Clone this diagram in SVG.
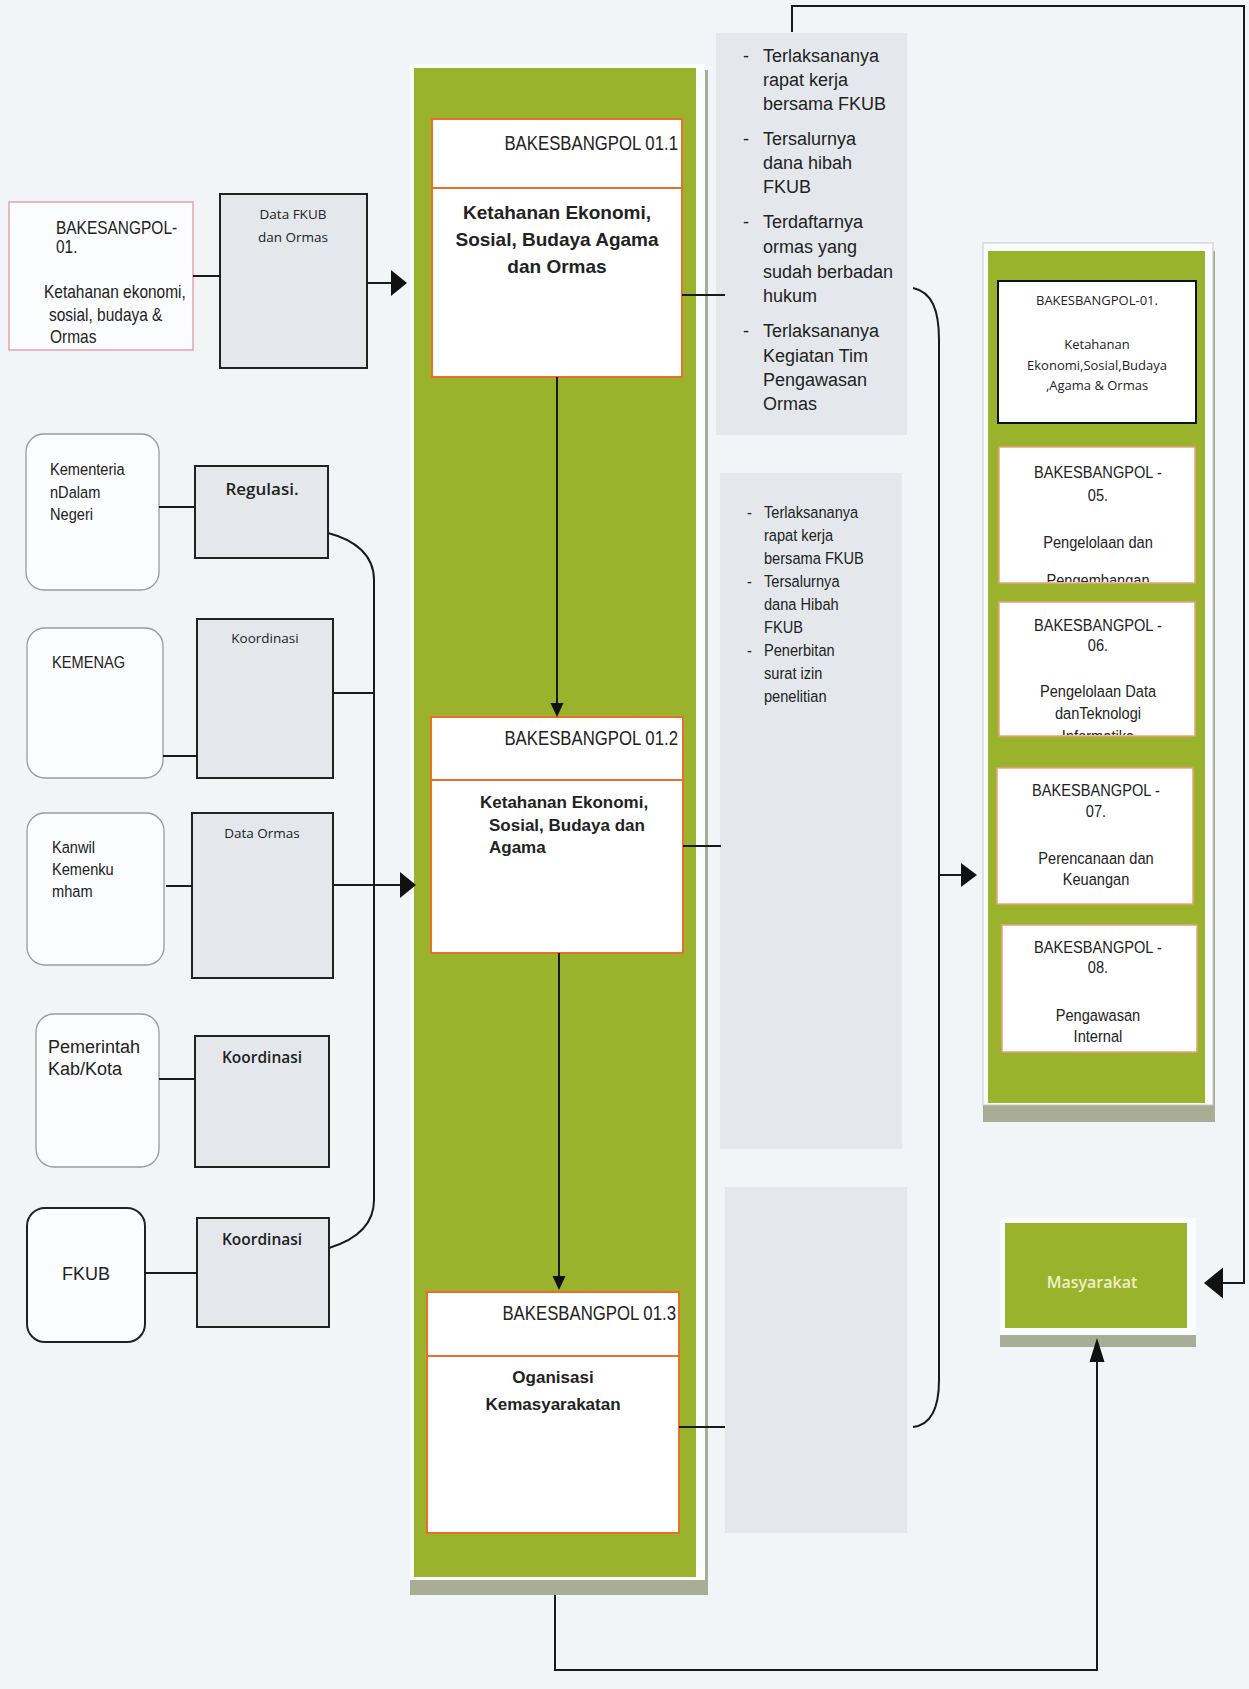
<svg xmlns="http://www.w3.org/2000/svg" width="1249" height="1689" viewBox="0 0 1249 1689">
<style>
text{font-family:"Liberation Sans",Arial,sans-serif;fill:#222;}
.nar{transform-box:fill-box;transform:scaleX(0.86);font-size:17px;}
.ol{transform-origin:left center;}
.oc{transform-origin:center;}
.or{transform-origin:right center;}
.cal{font-family:"Open Sans",sans-serif;}
.b1{font-size:18px;}
.bold{font-weight:bold;}
.mid{text-anchor:middle;}
.end{text-anchor:end;}
.src{fill:#fbfcfd;stroke:#9a9a9a;stroke-width:1.3;}
.dat{fill:#e4e8ec;stroke:#222;stroke-width:2;}
.wbox{fill:#fff;stroke:#e8702a;stroke-width:2;}
.rbox{fill:#fff;stroke:#e9a27c;stroke-width:1.5;}
.gray{fill:#e4e8ec;}
.green{fill:#9bb22c;}
.shadow{fill:#a9ad95;}
.frame{fill:#fbfcfd;}
.ln{fill:none;stroke:#1a1a1a;stroke-width:2;}
</style>
<defs>
<marker id="big" markerUnits="userSpaceOnUse" markerWidth="16" markerHeight="26" refX="0" refY="13" orient="auto" overflow="visible"><path d="M0,0 L16,13 L0,26 z" fill="#111"/></marker>
<marker id="med" markerUnits="userSpaceOnUse" markerWidth="14" markerHeight="13" refX="0" refY="6.5" orient="auto" overflow="visible"><path d="M0,0 L14,6.5 L0,13 z" fill="#111"/></marker>
<marker id="side" markerUnits="userSpaceOnUse" markerWidth="16" markerHeight="24" refX="0" refY="12" orient="auto" overflow="visible"><path d="M0,0 L16,12 L0,24 z" fill="#111"/></marker>
<marker id="loop" markerUnits="userSpaceOnUse" markerWidth="19" markerHeight="31" refX="0" refY="15.5" orient="auto" overflow="visible"><path d="M0,0 L19,15.5 L0,31 z" fill="#111"/></marker>
<marker id="up" markerUnits="userSpaceOnUse" markerWidth="24" markerHeight="15" refX="0" refY="7.5" orient="auto" overflow="visible"><path d="M0,0 L24,7.5 L0,15 z" fill="#111"/></marker>
<clipPath id="c5"><rect x="1000" y="448" width="194" height="134"/></clipPath>
<clipPath id="c6"><rect x="1000" y="603" width="194" height="132"/></clipPath>
</defs>

<rect x="0" y="0" width="1249" height="1689" fill="#f2f5f8"/>

<!-- central panel -->
<g id="panel-center">
<rect class="shadow" x="410" y="70" width="298" height="1525"/>
<rect class="frame" x="410" y="64" width="295" height="1516"/>
<rect class="green" x="414" y="68" width="282" height="1509"/>
</g>

<!-- output blocks -->
<g id="out1">
<rect class="gray" x="716" y="33" width="191" height="402"/>
<g class="b1">
<text x="743" y="62">-</text><text x="763" y="62">Terlaksananya</text>
<text x="763" y="86">rapat kerja</text>
<text x="763" y="110">bersama FKUB</text>
<text x="743" y="145">-</text><text x="763" y="145">Tersalurnya</text>
<text x="763" y="169">dana hibah</text>
<text x="763" y="193">FKUB</text>
<text x="743" y="228">-</text><text x="763" y="228">Terdaftarnya</text>
<text x="763" y="253">ormas yang</text>
<text x="763" y="278">sudah berbadan</text>
<text x="763" y="302">hukum</text>
<text x="743" y="337">-</text><text x="763" y="337">Terlaksananya</text>
<text x="763" y="362">Kegiatan Tim</text>
<text x="763" y="386">Pengawasan</text>
<text x="763" y="410">Ormas</text>
</g>
</g>
<g id="out2">
<rect class="gray" x="720" y="473" width="182" height="676"/>
<text class="nar ol" x="747" y="518">-</text>
<text class="nar ol" x="764" y="518">Terlaksananya</text>
<text class="nar ol" x="764" y="541">rapat kerja</text>
<text class="nar ol" x="764" y="564">bersama FKUB</text>
<text class="nar ol" x="747" y="587">-</text>
<text class="nar ol" x="764" y="587">Tersalurnya</text>
<text class="nar ol" x="764" y="610">dana Hibah</text>
<text class="nar ol" x="764" y="633">FKUB</text>
<text class="nar ol" x="747" y="656">-</text>
<text class="nar ol" x="764" y="656">Penerbitan</text>
<text class="nar ol" x="764" y="679">surat izin</text>
<text class="nar ol" x="764" y="702">penelitian</text>
</g>
<g id="out3">
<rect class="gray" x="725" y="1187" width="182" height="346"/>
</g>

<!-- center boxes -->
<g id="box011">
<rect class="wbox" x="432" y="119" width="250" height="258"/>
<line x1="432" y1="188" x2="682" y2="188" stroke="#e8702a" stroke-width="2"/>
<text class="nar or end" x="678" y="150" style="font-size:19.5px">BAKESBANGPOL 01.1</text>
<text class="bold mid" x="557" y="219" font-size="19">Ketahanan Ekonomi,</text>
<text class="bold mid" x="557" y="246" font-size="19">Sosial, Budaya Agama</text>
<text class="bold mid" x="557" y="273" font-size="19">dan Ormas</text>
</g>
<g id="box012">
<rect class="wbox" x="431" y="717" width="252" height="236"/>
<line x1="431" y1="780" x2="683" y2="780" stroke="#e8702a" stroke-width="2"/>
<text class="nar or end" x="678" y="745" style="font-size:19.5px">BAKESBANGPOL 01.2</text>
<text class="bold" x="480" y="808" font-size="17">Ketahanan Ekonomi,</text>
<text class="bold" x="489" y="831" font-size="17">Sosial, Budaya dan</text>
<text class="bold" x="489" y="853" font-size="17">Agama</text>
</g>
<g id="box013">
<rect class="wbox" x="427" y="1292" width="252" height="241"/>
<line x1="427" y1="1356" x2="679" y2="1356" stroke="#e8702a" stroke-width="2"/>
<text class="nar or end" x="676" y="1320" style="font-size:19.5px">BAKESBANGPOL 01.3</text>
<text class="bold mid" x="553" y="1383" font-size="17">Oganisasi</text>
<text class="bold mid" x="553" y="1410" font-size="17">Kemasyarakatan</text>
</g>

<!-- right panel -->
<g id="panel-right">
<rect class="shadow" x="983" y="251" width="232" height="871"/>
<rect class="frame" x="983" y="243" width="230" height="862" stroke="#c8c8c8" stroke-width="1"/>
<rect class="green" x="988" y="251" width="217" height="852"/>
</g>
<g id="r01">
<rect x="998" y="281" width="198" height="142" fill="#fff" stroke="#111" stroke-width="2"/>
<text class="cal mid" x="1097" y="305" font-size="13">BAKESBANGPOL-01.</text>
<text class="cal mid" x="1097" y="349" font-size="13">Ketahanan</text>
<text class="cal mid" x="1097" y="370" font-size="13">Ekonomi,Sosial,Budaya</text>
<text class="cal mid" x="1097" y="390" font-size="13">,Agama &amp; Ormas</text>
</g>
<g id="r05">
<rect class="rbox" x="999" y="447" width="196" height="136"/>
<text class="nar oc mid" x="1098" y="478">BAKESBANGPOL -</text>
<text class="nar oc mid" x="1098" y="501">05.</text>
<text class="nar oc mid" x="1098" y="548">Pengelolaan dan</text>
<g clip-path="url(#c5)"><text class="nar oc mid" x="1098" y="586">Pengembangan</text></g>
</g>
<g id="r06">
<rect class="rbox" x="999" y="602" width="196" height="134"/>
<text class="nar oc mid" x="1098" y="631">BAKESBANGPOL -</text>
<text class="nar oc mid" x="1098" y="651">06.</text>
<text class="nar oc mid" x="1098" y="697">Pengelolaan Data</text>
<text class="nar oc mid" x="1098" y="719">danTeknologi</text>
<g clip-path="url(#c6)"><text class="nar oc mid" x="1098" y="742">Informatika</text></g>
</g>
<g id="r07">
<rect class="rbox" x="997" y="768" width="196" height="136"/>
<text class="nar oc mid" x="1096" y="796">BAKESBANGPOL -</text>
<text class="nar oc mid" x="1096" y="817">07.</text>
<text class="nar oc mid" x="1096" y="864">Perencanaan dan</text>
<text class="nar oc mid" x="1096" y="885">Keuangan</text>
</g>
<g id="r08">
<rect class="rbox" x="1002" y="925" width="195" height="127"/>
<text class="nar oc mid" x="1098" y="953">BAKESBANGPOL -</text>
<text class="nar oc mid" x="1098" y="973">08.</text>
<text class="nar oc mid" x="1098" y="1021">Pengawasan</text>
<text class="nar oc mid" x="1098" y="1042">Internal</text>
</g>

<g id="masyarakat">
<rect class="shadow" x="1000" y="1225" width="196" height="122"/>
<rect class="frame" x="1000" y="1218" width="196" height="117"/>
<rect class="green" x="1005" y="1223" width="182" height="105"/>
<text class="cal mid" x="1092" y="1288" font-size="16" font-weight="600" style="fill:#eef0c4">Masyarakat</text>
</g>

<!-- left column -->
<g id="bakesangpol01">
<rect x="9" y="202" width="184" height="148" fill="#fbfcfd" stroke="#e58a9a" stroke-width="1.2"/>
<text class="nar ol" x="56" y="234" style="font-size:18px">BAKESANGPOL-</text>
<text class="nar ol" x="56" y="253" style="font-size:18px">01.</text>
<text class="nar ol" x="44" y="298" style="font-size:18px">Ketahanan ekonomi,</text>
<text class="nar ol" x="49" y="321" style="font-size:18px">sosial, budaya &amp;</text>
<text class="nar ol" x="50" y="343" style="font-size:18px">Ormas</text>
</g>
<g id="datafkub">
<rect class="dat" x="220" y="194" width="147" height="174"/>
<text class="cal mid" x="293" y="219" font-size="13.5">Data FKUB</text>
<text class="cal mid" x="293" y="242" font-size="13.5">dan Ormas</text>
</g>
<g id="kemendagri">
<rect class="src" x="26" y="434" width="133" height="156" rx="18"/>
<text class="nar ol" x="50" y="475">Kementeria</text>
<text class="nar ol" x="50" y="498">nDalam</text>
<text class="nar ol" x="50" y="520">Negeri</text>
</g>
<g id="regulasi">
<rect class="dat" x="195" y="466" width="133" height="92"/>
<text class="cal mid" x="262" y="495" font-size="17" font-weight="600">Regulasi.</text>
</g>
<g id="kemenag">
<rect class="src" x="27" y="628" width="136" height="150" rx="18"/>
<text class="nar ol" x="52" y="668">KEMENAG</text>
</g>
<g id="koordinasi1">
<rect class="dat" x="197" y="619" width="136" height="159"/>
<text class="cal mid" x="265" y="643" font-size="13.5">Koordinasi</text>
</g>
<g id="kanwil">
<rect class="src" x="27" y="813" width="137" height="152" rx="18"/>
<text class="nar ol" x="52" y="853">Kanwil</text>
<text class="nar ol" x="52" y="875">Kemenku</text>
<text class="nar ol" x="52" y="897">mham</text>
</g>
<g id="dataormas">
<rect class="dat" x="192" y="813" width="141" height="165"/>
<text class="cal mid" x="262" y="838" font-size="13.5">Data Ormas</text>
</g>
<g id="pemerintah">
<rect class="src" x="36" y="1014" width="123" height="153" rx="18"/>
<text x="48" y="1053" font-size="18">Pemerintah</text>
<text x="48" y="1075" font-size="18">Kab/Kota</text>
</g>
<g id="koordinasi2">
<rect class="dat" x="195" y="1036" width="134" height="131"/>
<text class="cal mid" x="262" y="1063" font-size="15.5" font-weight="600">Koordinasi</text>
</g>
<g id="fkub">
<rect x="27" y="1208" width="118" height="134" rx="18" fill="#fbfcfd" stroke="#222" stroke-width="2"/>
<text class="mid" x="86" y="1280" font-size="18">FKUB</text>
</g>
<g id="koordinasi3">
<rect class="dat" x="197" y="1218" width="132" height="109"/>
<text class="cal mid" x="262" y="1245" font-size="15.5" font-weight="600">Koordinasi</text>
</g>

<!-- connectors -->
<g id="connectors">
<line class="ln" x1="193" y1="276" x2="220" y2="276" stroke-width="4"/>
<line class="ln" x1="367" y1="283" x2="391" y2="283" stroke-width="4" marker-end="url(#big)"/>
<line class="ln" x1="159" y1="507" x2="195" y2="507"/>
<path class="ln" d="M328,533 C355,540 374,555 374,580 L374,1200 C374,1225 355,1240 329,1248"/>
<line class="ln" x1="163" y1="756" x2="197" y2="756" stroke-width="1.5"/>
<line class="ln" x1="333" y1="693" x2="374" y2="693"/>
<line class="ln" x1="166" y1="886" x2="192" y2="886" stroke-width="5"/>
<line class="ln" x1="333" y1="885" x2="400" y2="885" stroke-width="3" marker-end="url(#big)"/>
<line class="ln" x1="159" y1="1079" x2="195" y2="1079" stroke-width="1.5"/>
<line class="ln" x1="145" y1="1273" x2="197" y2="1273"/>
<line class="ln" x1="557" y1="377" x2="557" y2="703" marker-end="url(#med)"/>
<line class="ln" x1="559" y1="953" x2="559" y2="1276" marker-end="url(#med)"/>
<line class="ln" x1="682" y1="295" x2="725" y2="295"/>
<line class="ln" x1="683" y1="846" x2="721" y2="846"/>
<line class="ln" x1="679" y1="1427" x2="725" y2="1427"/>
<path class="ln" d="M913,288 C932,292 939,310 939,340 L939,1380 C939,1410 930,1425 913,1427"/>
<line class="ln" x1="939" y1="875" x2="961" y2="875" stroke="#777" stroke-width="1.5" marker-end="url(#side)"/>
<path class="ln" d="M792,32 L792,6 L1244,6 L1244,1283 L1223,1283" stroke-width="1.5" marker-end="url(#loop)"/>
<path class="ln" d="M555,1595 L555,1670 L1097,1670 L1097,1362" stroke-width="1.5" marker-end="url(#up)"/>
</g>
</svg>
